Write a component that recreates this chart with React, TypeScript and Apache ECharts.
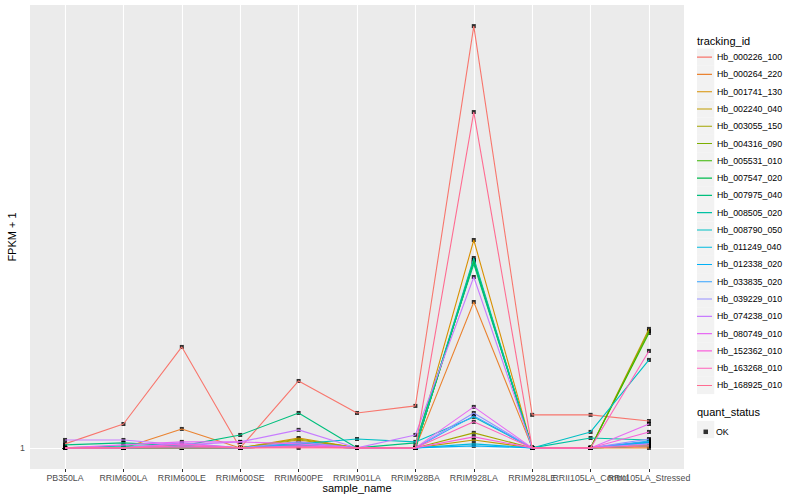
import React, { useEffect, useRef } from "react";
import * as echarts from "echarts";

const categories = [
  "PB350LA", "RRIM600LA", "RRIM600LE", "RRIM600SE", "RRIM600PE", "RRIM901LA",
  "RRIM928BA", "RRIM928LA", "RRIM928LE", "RRII105LA_Control", "RRII105LA_Stressed",
];

const trackingIds = [
  "Hb_000226_100", "Hb_000264_220", "Hb_001741_130", "Hb_002240_040", "Hb_003055_150",
  "Hb_004316_090", "Hb_005531_010", "Hb_007547_020", "Hb_007975_040", "Hb_008505_020",
  "Hb_008790_050", "Hb_011249_040", "Hb_012338_020", "Hb_033835_020", "Hb_039229_010",
  "Hb_074238_010", "Hb_080749_010", "Hb_152362_010", "Hb_163268_010", "Hb_168925_010",
];

const palette = [
  "#F8766D", "#EA8331", "#D89000", "#C09B00", "#A3A500", "#7CAE00", "#39B600", "#00BB4E",
  "#00BF7D", "#00C1A3", "#00BFC4", "#00BAE0", "#00B0F6", "#35A2FF", "#9590FF", "#C77CFF",
  "#E76BF3", "#FA62DB", "#FF62BC", "#FF6C91",
];

// FPKM + 1 per sample, one array per tracking id
const hb000226_100 = [1.02, 1.125, 1.645, 1, 1.391, 1.188, 1.23, 8.0, 1.177, 1.177, 1.142];
const hb000264_220 = [1, 1, 1.098, 1, 1.03, 1, 1, 2.053, 1, 1, 1];
const hb001741_130 = [1, 1, 1.01, 1, 1.05, 1, 1, 2.787, 1, 1, 1.01];
const hb002240_040 = [1, 1, 1, 1, 1.04, 1, 1, 1.04, 1, 1, 1.798];
const hb003055_150 = [1, 1, 1, 1, 1.045, 1, 1, 1.077, 1, 1, 1.02];
const hb004316_090 = [1, 1, 1, 1, 1.01, 1, 1, 2.501, 1, 1, 1.78];
const hb005531_010 = [1, 1, 1, 1, 1.01, 1, 1, 2.525, 1, 1, 1.762];
const hb007547_020 = [1, 1, 1.005, 1, 1.02, 1, 1, 2.501, 1, 1, 1.03];
const hb007975_040 = [1.015, 1.025, 1.01, 1.066, 1.188, 1, 1.025, 2.476, 1, 1, 1.01];
const hb008505_020 = [1, 1.01, 1.005, 1, 1.025, 1, 1, 2.55, 1, 1.05, 1.04];
const hb008790_050 = [1, 1, 1, 1, 1.02, 1.045, 1.03, 1.165, 1, 1.082, 1.543];
const hb011249_040 = [1, 1, 1.01, 1, 1.01, 1, 1, 1.02, 1, 1, 1.03];
const hb012338_020 = [1, 1, 1.005, 1, 1.01, 1, 1, 1.01, 1, 1, 1.025];
const hb033835_020 = [1, 1, 1.01, 1, 1.02, 1, 1, 1.171, 1, 1, 1.035];
const hb039229_010 = [1, 1, 1.025, 1, 1.03, 1, 1, 1.188, 1, 1, 1.045];
const hb074238_010 = [1.04, 1.04, 1.015, 1.03, 1.093, 1, 1.066, 2.322, 1, 1, 1.02];
const hb080749_010 = [1, 1.015, 1.03, 1.03, 1.02, 1, 1, 1.224, 1, 1, 1.125];
const hb152362_010 = [1, 1, 1.02, 1, 1.01, 1, 1, 1.056, 1, 1, 1.082];
const hb163268_010 = [1, 1, 1.01, 1, 1.005, 1, 1, 1.137, 1, 1, 1.613];
const hb168925_010 = [1, 1, 1, 1, 1, 1, 1, 5.237, 1, 1, 1.01];

const seriesValues = [
  hb000226_100, hb000264_220, hb001741_130, hb002240_040, hb003055_150,
  hb004316_090, hb005531_010, hb007547_020, hb007975_040, hb008505_020,
  hb008790_050, hb011249_040, hb012338_020, hb033835_020, hb039229_010,
  hb074238_010, hb080749_010, hb152362_010, hb163268_010, hb168925_010,
];

const yTicks = [1];
const statusLabels = ["OK"];

const FONT = "Liberation Sans, Arial, Helvetica, sans-serif";

export default function App() {
  const ref = useRef<HTMLDivElement>(null);

  useEffect(() => {
    document.body.style.margin = "0";
    if (!ref.current) return;
    const chart = echarts.init(ref.current, null, { renderer: "svg" });

    const L = Math.log10(8);
    const yMin = Math.pow(10, -0.05 * L);
    const yMax = Math.pow(10, 1.05 * L);
    const xMin = -0.6;
    const xMax = categories.length - 1 + 0.6;
    const catIdx = categories.map((_, i) => i);
    // an empty trailing label so the min/max overlap rule does not hide a category label
    const labelIdx = [...catIdx, xMax];

    const keyTop = 48.5;
    const keyStep = 17.28;
    const keyW = 15;
    const lineIcon =
      `path://M0,0 L0.01,0 L0.01,0.01 L0,0.01 Z ` +
      `M0,${(keyStep / 2 - 0.55).toFixed(2)} L${keyW},${(keyStep / 2 - 0.55).toFixed(2)} ` +
      `L${keyW},${(keyStep / 2 + 0.55).toFixed(2)} L0,${(keyStep / 2 + 0.55).toFixed(2)} Z ` +
      `M${keyW - 0.01},${keyStep - 0.01} L${keyW},${keyStep - 0.01} L${keyW},${keyStep} L${keyW - 0.01},${keyStep} Z`;

    const lineSeries = trackingIds.map((id, s) => ({
      name: id,
      type: "line",
      data: seriesValues[s].map((v, i) => [i, v]),
      symbol: "none",
      showSymbol: false,
      silent: true,
      lineStyle: { color: palette[s], width: 1.1 },
      itemStyle: { color: palette[s] },
      emphasis: { disabled: true },
    }));

    const pts: number[][] = [];
    seriesValues.forEach((vals) => vals.forEach((v, i) => pts.push([i, v])));

    const graphics: any[] = trackingIds.map((_, i) => ({
      type: "rect",
      shape: { x: 697, y: keyTop + i * keyStep, width: 17.28, height: 17.28 },
      style: { fill: "#F2F2F2" },
      z: 0,
    }));
    graphics.push({
      type: "rect",
      shape: { x: 697, y: 420.9, width: 17.28, height: 17.28 },
      style: { fill: "#F2F2F2" },
      z: 0,
    });
    graphics.push({
      type: "text",
      x: 697,
      y: 40.7,
      style: { text: "tracking_id", fill: "#000", fontSize: 11, fontFamily: FONT, verticalAlign: "middle" },
    });
    graphics.push({
      type: "text",
      x: 697,
      y: 412.3,
      style: { text: "quant_status", fill: "#000", fontSize: 11, fontFamily: FONT, verticalAlign: "middle" },
    });

    chart.setOption({
      animation: false,
      backgroundColor: "#ffffff",
      textStyle: { fontFamily: FONT },
      grid: {
        left: 30, top: 5, width: 654, height: 464,
        containLabel: false,
        outerBoundsMode: "none",
        show: true, backgroundColor: "#EBEBEB", borderWidth: 0,
      },
      xAxis: {
        type: "value",
        min: xMin,
        max: xMax,
        minInterval: 1,
        maxInterval: 1,
        name: "sample_name",
        nameLocation: "middle",
        nameGap: 13,
        nameMoveOverlap: false,
        nameTextStyle: { fontSize: 11, color: "#000", fontFamily: FONT, verticalAlign: "top" },
        axisLine: { show: false },
        axisTick: { show: true, length: 3, lineStyle: { color: "#333333", width: 1 }, customValues: catIdx },
        axisLabel: {
          customValues: labelIdx,
          hideOverlap: false,
          fontSize: 8.8,
          color: "#4D4D4D",
          margin: 4,
          fontFamily: FONT,
          formatter: (v: number) => {
            const r = Math.round(v);
            return Math.abs(v - r) < 1e-6 && categories[r] ? categories[r] : " ";
          },
        },
        splitLine: { show: true, lineStyle: { color: "#FFFFFF", width: 1.1 } },
      },
      yAxis: {
        type: "log",
        logBase: 10,
        min: yMin,
        max: yMax,
        name: "FPKM + 1",
        nameLocation: "middle",
        nameGap: 13,
        nameMoveOverlap: false,
        nameTextStyle: { fontSize: 11, color: "#000", fontFamily: FONT },
        axisLine: { show: false },
        axisTick: { show: true, length: 3, lineStyle: { color: "#333333", width: 1 }, customValues: yTicks },
        axisLabel: {
          customValues: yTicks,
          fontSize: 8.8,
          color: "#4D4D4D",
          margin: 5,
          fontFamily: FONT,
          formatter: (v: number) => (yTicks.some((t) => Math.abs(v - t) < 1e-6) ? String(Math.round(v)) : ""),
        },
        splitLine: { show: true, lineStyle: { color: "#FFFFFF", width: 1.1 } },
      },
      legend: [
        {
          data: trackingIds,
          orient: "vertical",
          left: 697,
          top: keyTop,
          padding: 0,
          icon: lineIcon,
          itemWidth: keyW,
          itemHeight: keyStep,
          itemGap: 0,
          selectedMode: false,
          textStyle: { fontSize: 8.8, color: "#000", fontFamily: FONT },
        },
        {
          data: statusLabels,
          orient: "vertical",
          left: 703.5,
          top: 427.3,
          padding: 0,
          itemWidth: 4.5,
          itemHeight: 4.5,
          selectedMode: false,
          textStyle: { fontSize: 8.8, color: "#000", fontFamily: FONT, padding: [0, 0, 0, 3] },
        },
      ],
      graphic: graphics,
      series: [
        ...lineSeries,
        {
          name: statusLabels[0],
          type: "scatter",
          data: pts,
          symbol: "rect",
          symbolSize: 4,
          silent: true,
          itemStyle: { color: "#000000" },
          emphasis: { disabled: true },
        },
      ],
    });

    return () => chart.dispose();
  }, []);

  return <div ref={ref} style={{ width: 800, height: 500 }} />;
}
